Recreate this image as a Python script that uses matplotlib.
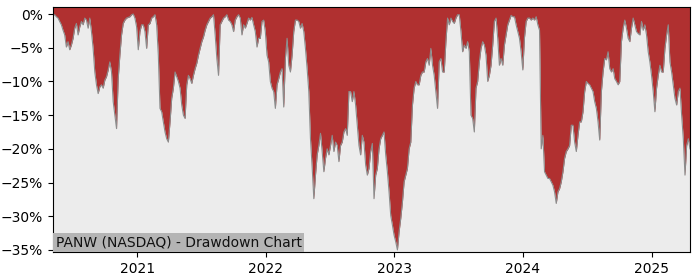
import numpy as np
import pandas as pd
import matplotlib
matplotlib.use("Agg")
import matplotlib.pyplot as plt
import matplotlib.dates as mdates
from matplotlib.ticker import PercentFormatter, MultipleLocator

# PANW drawdown (%), sampled every ~4.75 days from May 2020 to Apr 2025
dd_2020 = [-0.1, -0.1, -0.4, -0.6, -1.1, -1.6, -2.4, -3.1, -4.9, -4.1, -5.3, -4.6, -3.6, -2.1, -1.4, -3.1,
           -1.9, -1.1, -1.6, -0.6, -0.9, -2.1, -0.6, -2.6, -5.1, -8.6, -10.5, -11.8, -10.8, -10.5, -11.0, -9.8,
           -9.3, -8.3, -7.1, -8.6, -13.0, -15.0, -17.0, -9.6, -6.1, -3.1, -1.4, -0.9, -0.6, -0.5, -0.4, -0.1,
           0.0, -0.6, -1.9, -5.3, -2.6, -1.6, -1.6, -2.6, -5.1, -1.6, -1.4, -0.6, -0.4, -0.1, -1.6, -6.1]
dd_2021 = [-14.0, -14.5, -16.0, -17.5, -18.5, -19.0, -16.0, -12.5, -11.0, -8.6, -9.3, -10.0, -11.0, -13.5, -15.0, -15.5,
           -10.5, -9.1, -9.6, -10.3, -9.1, -8.1, -7.3, -6.1, -5.1, -4.1, -3.4, -2.4, -1.6, -1.1, -0.6, -0.4,
           -0.1, -3.1, -6.6, -9.1, -1.6, -1.1, -0.6, -0.4, -0.1, -0.9, -1.1, -1.6, -2.6, -0.9, -0.4, -0.1,
           -0.6, -3.1, -1.6, -2.1, -1.4, -0.6, -0.9, -0.5, -1.6, -2.6, -4.9, -3.6]
dd_2022 = [-3.6, -1.1, -0.9, -2.6, -6.1, -7.1, -10.0, -11.0, -11.5, -14.0, -10.5, -9.6, -8.6, -8.1, -13.8, -6.6,
           -3.6, -7.6, -8.6, -6.1, -2.6, -0.9, -0.9, -1.1, -2.1, -1.4, -2.6, -5.1, -8.1, -11.5, -18.5, -22.7,
           -27.4, -23.9, -20.9, -19.5, -17.7, -20.4, -23.4, -21.4, -20.0, -20.9, -19.5, -18.0, -20.4, -19.0, -19.5, -21.9,
           -19.5, -19.0, -17.5, -17.0, -18.0, -11.5, -11.5, -13.0, -11.5, -13.5, -16.5, -19.5, -20.9, -18.0, -19.0, -22.4]
dd_2023 = [-23.9, -22.9, -20.4, -19.2, -27.4, -23.9, -22.9, -20.0, -18.5, -18.0, -17.5, -20.9, -23.4, -26.4, -29.9, -31.3,
           -32.8, -33.8, -35.0, -32.3, -30.3, -27.9, -24.9, -23.9, -22.9, -20.0, -19.0, -13.5, -11.0, -10.0, -10.5, -10.5,
           -9.1, -8.6, -8.6, -7.1, -6.6, -7.6, -5.1, -7.6, -9.1, -11.5, -14.0, -7.1, -6.6, -8.6, -8.6, -4.1,
           -0.6, -1.6, -0.6, -1.1, -1.4, -0.6, -0.1, -0.1, -2.6, -5.6, -4.6, -5.1, -4.1, -5.6]
dd_2024 = [-15.0, -15.5, -17.5, -11.0, -10.0, -7.1, -5.1, -4.1, -4.6, -6.1, -10.0, -9.1, -7.6, -4.6, -1.1, -0.6,
           -3.6, -7.6, -6.6, -7.6, -4.6, -3.1, -1.6, -0.9, -0.2, -0.4, -0.4, -1.6, -2.6, -3.6, -5.6, -8.3,
           -3.5, -1.1, -0.6, -0.6, -0.9, -0.6, -0.9, -0.4, -1.6, -2.4, -20.0, -18.0, -23.4, -23.9, -24.4, -24.4,
           -24.9, -25.4, -26.4, -28.1, -26.4, -25.9, -24.9, -23.4, -21.4, -20.4, -20.0, -19.5, -16.5, -16.5, -19.0, -20.4,
           -18.0, -16.0]
dd_2025 = [-16.0, -14.5, -11.5, -10.0, -10.3, -10.5, -11.0, -11.5, -13.0, -14.0, -16.0, -18.7, -11.5, -8.6, -6.6, -6.8,
           -5.6, -8.1, -8.6, -8.1, -9.6, -10.0, -10.5, -10.0, -4.1, -2.1, -0.9, -2.1, -3.6, -4.1, -2.1, -0.6,
           -1.6, -2.6, -2.9, -3.1, -1.1, -2.4, -1.6, -3.1, -5.6, -7.1, -9.1, -11.5, -14.5, -11.0, -9.1, -7.6,
           -8.6, -8.6, -5.1, -3.1, -1.6, -7.1, -8.6, -10.5, -12.5, -13.5, -11.5, -11.0, -15.0, -18.5, -23.9, -19.5,
           -18.5, -20.0]

drawdown = np.array(dd_2020 + dd_2021 + dd_2022 + dd_2023 + dd_2024 + dd_2025)
dates = pd.date_range("2020-05-07", "2025-04-20", periods=len(drawdown))

ticker = "PANW"
exchange = "NASDAQ"

fig = plt.figure(figsize=(7, 2.8), dpi=100)
ax = fig.add_axes([0.0757, 0.099, 0.91, 0.875])
ax.set_facecolor("#ececec")

top = 1
ax.fill_between(dates, drawdown, top, color="#b03030", linewidth=0)
ax.plot(dates, drawdown, color="#8c8c8c", linewidth=0.8)

ax.set_xlim(dates[0], dates[-1])
ax.set_ylim(drawdown.min() * 1.01, top)
ax.xaxis.set_major_locator(mdates.YearLocator())
ax.xaxis.set_major_formatter(mdates.DateFormatter("%Y"))
ax.yaxis.set_major_locator(MultipleLocator(5))
ax.yaxis.set_major_formatter(PercentFormatter(decimals=0))

ax.text(0.004, 0.012, f"{ticker} ({exchange}) - Drawdown Chart", transform=ax.transAxes,
        ha="left", va="bottom", fontsize=10, color="#111111",
        bbox=dict(boxstyle="square,pad=0.2", facecolor="#b4b4b4", edgecolor="none"))

fig.savefig("out.png", dpi=100)
